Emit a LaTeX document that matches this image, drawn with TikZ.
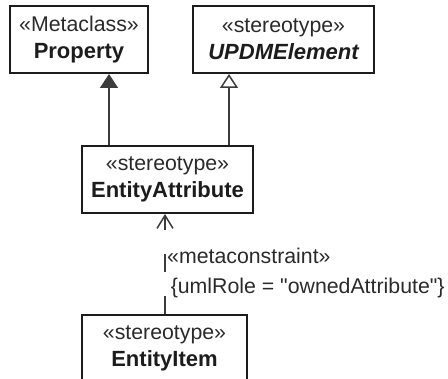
\documentclass[tikz,border=0pt]{standalone}
\usepackage{fontspec}
\setmainfont{Liberation Sans}[Ligatures=TeXOff]
\usetikzlibrary{arrows.meta,positioning}
\definecolor{umlink}{HTML}{1C1C1C}
\definecolor{umlline}{HTML}{3C3C3C}
\definecolor{umlgrey}{HTML}{2A2A2A}
\newcommand{\stlabel}[1]{{\fontsize{21.3}{27}\selectfont\color{umlgrey}«#1»}}
\newcommand{\clname}[1]{{\fontsize{22}{27}\selectfont\bfseries #1}}
\tikzset{
  umlclass/.style={draw=umlink,line width=2pt,align=center,text=umlink,
                   minimum height=67pt,inner sep=0pt,
                   font=\fontsize{21.3}{27}\selectfont},
  gen/.style={-{Triangle[length=14pt,width=18pt]},line width=1.5pt,umlline},
  genopen/.style={-{Triangle[open,length=14pt,width=18pt,fill=white]},line width=1.5pt,umlline},
  dep/.style={-{Straight Barb[length=13pt,width=16pt]},line width=1.5pt,umlline,
              dash pattern=on 18pt off 24pt},
  lab/.style={font=\fontsize{21.3}{30}\selectfont,text=umlgrey,align=left,inner sep=0pt},
}
\begin{document}
\begin{tikzpicture}[x=1pt,y=-1pt]
  \useasboundingbox (0,0) rectangle (448,379);
  \node[umlclass,minimum width=138pt] (prop) at (79,39.5)
       {\stlabel{Metaclass}\\\clname{Property}};
  \node[umlclass,minimum width=181pt] (updm) at (283.5,39.5)
       {\stlabel{stereotype}\\\clname{\itshape UPDMElement}};
  \node[umlclass,minimum width=171pt] (attr) at (167.5,179.5)
       {\stlabel{stereotype}\\\clname{EntityAttribute}};
  \node[umlclass,minimum width=165pt] (item) at (164.5,348.5)
       {\stlabel{stereotype}\\\clname{EntityItem}};
  \coordinate (gp) at (109,0);
  \coordinate (gu) at (229,0);
  \coordinate (dp) at (165,0);
  \draw[gen] (gp|-attr.north) -- (gp|-prop.south);
  \draw[genopen] (gu|-attr.north) -- (gu|-updm.south);
  \draw[dep] (dp|-item.north) -- (dp|-attr.south);
  \node[lab,anchor=west] (cons) at (167,273)
       {«metaconstraint»\\\,{\{}umlRole = "ownedAttribute"{\}}};
\end{tikzpicture}
\end{document}
